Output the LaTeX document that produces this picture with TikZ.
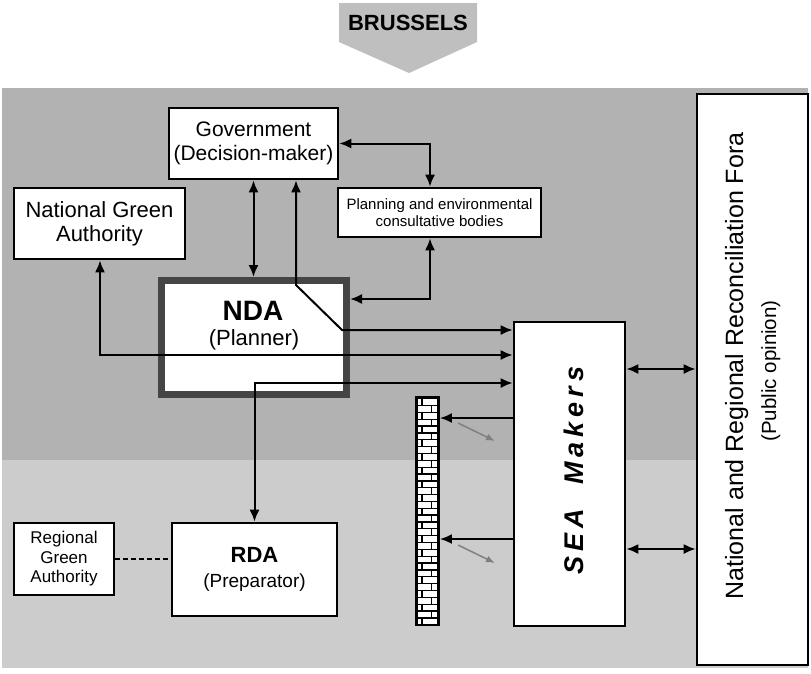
\documentclass[tikz,border=0pt]{standalone}
\usepackage{fontspec}
\setmainfont{Liberation Sans}
\usetikzlibrary{arrows.meta,calc}
\definecolor{darkbg}{gray}{0.70}
\definecolor{lightbg}{gray}{0.80}
\definecolor{arrowfill}{gray}{0.75}
\definecolor{ndaborder}{gray}{0.27}
\definecolor{thinarrow}{gray}{0.50}
\newcommand{\fsz}[2]{\fontsize{#1}{#2}\selectfont}
\begin{document}
\begin{tikzpicture}[x=1pt,y=-1pt,
  >={Latex[length=12pt,width=10pt]},
  box/.style={draw=black,line width=2.6pt,fill=white,inner sep=0pt,align=center},
  conn/.style={line width=2pt,draw=black,<->},
  one/.style={line width=2pt,draw=black,->},
  greyarrow/.style={draw=thinarrow,line width=1.5pt,-{Latex[length=9pt,width=7pt]}},
  brick/.style={fill=white,draw=none}
]
\useasboundingbox (0,0) rectangle (811,673);
% background
\fill[darkbg] (2,88) rectangle (808,460);
\fill[lightbg] (2,460) rectangle (808,668);
% Brussels arrow
\fill[arrowfill] (339,3) -- (477,3) -- (477,42) -- (409,73) -- (339,42) -- cycle;
\node[font=\bfseries\fsz{22}{26},anchor=base,inner sep=0pt] (brussels) at (408,30) {BRUSSELS};
% boxes
\node[box,minimum width=169pt,minimum height=71pt,font=\fsz{21}{24}] (gov) at (253.5,143.5) {Government\\(Decision-maker)};
\node[box,minimum width=171pt,minimum height=71pt,font=\fsz{22}{24}] (nga) at (99.5,223.5) {National Green\\Authority};
\node[box,minimum width=203pt,minimum height=49pt,font=\fsz{15}{17}] (plan) at (439.5,212.5) {Planning and environmental\\consultative bodies};
\node[box,draw=ndaborder,line width=7pt,minimum width=185pt,minimum height=114pt] (nda) at (254,337.5) {};
\node[box,minimum width=165pt,minimum height=93pt,font=\fsz{19}{25}] (rda) at (254.5,569.5) {{\bfseries\fsz{22}{25}RDA}\\(Preparator)};
\node[box,minimum width=100pt,minimum height=72pt,font=\fsz{17}{19.5}] (rga) at (64,559) {Regional\\Green\\Authority};
\node[box,minimum width=111pt,minimum height=304pt] (sea) at (569.5,474) {};
\node[box,minimum width=111pt,minimum height=571pt] (fora) at (752.5,379.5) {};
% texts
\node[font=\bfseries\fsz{28}{30},anchor=base,inner sep=0pt] (ndaname) at (253,320) {NDA};
\node[font=\fsz{22}{24},anchor=base,inner sep=0pt] (ndarole) at (254,345) {(Planner)};
\node[font=\bfseries\itshape\fsz{27}{28},rotate=90,anchor=base,inner sep=0pt] (seatext) at (583,470.5) {S\kern5pt E\kern5pt A\hspace{24pt}M\kern5pt a\kern5pt k\kern5pt e\kern5pt r\kern5pt s};
\node[font=\fsz{25}{28},rotate=90,anchor=base,inner sep=0pt] (foratitle) at (743,366) {National and Regional Reconciliation Fora};
\node[font=\fsz{20.5}{24},rotate=90,anchor=base,inner sep=0pt] (foraop) at (776,371) {(Public opinion)};
% wall
\node[draw=black,fill=black,line width=1.8pt,minimum width=23pt,minimum height=228pt,inner sep=0pt] (wall) at (427.5,511) {};
\foreach \i in {0,2,...,32} {
  \fill[brick] (418.3,398+\i*6.85+1.3) rectangle (421.3,398+\i*6.85+6.85);
  \fill[brick] (422.6,398+\i*6.85+1.3) rectangle (436.7,398+\i*6.85+6.85);
}
\foreach \i in {1,3,...,31} {
  \fill[brick] (418.3,398+\i*6.85+1.3) rectangle (431,398+\i*6.85+6.85);
  \fill[brick] (432.3,398+\i*6.85+1.3) rectangle (436.7,398+\i*6.85+6.85);
}
% coordinates
\coordinate (k1) at (296,285);
\coordinate (k2) at (342,330);
\coordinate (g1) at (430,143.5);
\coordinate (p1) at (430,299);
\coordinate (n1) at (100,355);
\coordinate (r1) at (254.5,383);
\coordinate (w1) at (0,418);
\coordinate (w2) at (0,539);
\coordinate (f1) at (0,369);
\coordinate (f2) at (0,549);
\coordinate (t1) at (458,423);
\coordinate (t2) at (495,441);
\coordinate (t3) at (458,545);
\coordinate (t4) at (495,563);
% connectors
\draw[conn] (gov.south) -- (gov.south |- nda.north);
\draw[conn] (gov.south -| k1) -- (k1) -- (k2) -- (k2 -| sea.west);
\draw[conn] (gov.east) -- (g1) -- (g1 |- plan.north);
\draw[conn] (p1 |- plan.south) -- (p1) -- (p1 -| nda.east);
\draw[conn] (n1 |- nga.south) -- (n1) -- (n1 -| sea.west);
\draw[conn] (r1 |- rda.north) -- (r1) -- (r1 -| sea.west);
\draw[one] (sea.west |- w1) -- (wall.east |- w1);
\draw[one] (sea.west |- w2) -- (wall.east |- w2);
\draw[greyarrow] (t1) -- (t2);
\draw[greyarrow] (t3) -- (t4);
\draw[conn] (sea.east |- f1) -- (fora.west |- f1);
\draw[conn] (sea.east |- f2) -- (fora.west |- f2);
\draw[line width=2pt,dash pattern=on 5pt off 3pt] (rga.east) -- (rga.east -| rda.west);
\end{tikzpicture}
\end{document}
